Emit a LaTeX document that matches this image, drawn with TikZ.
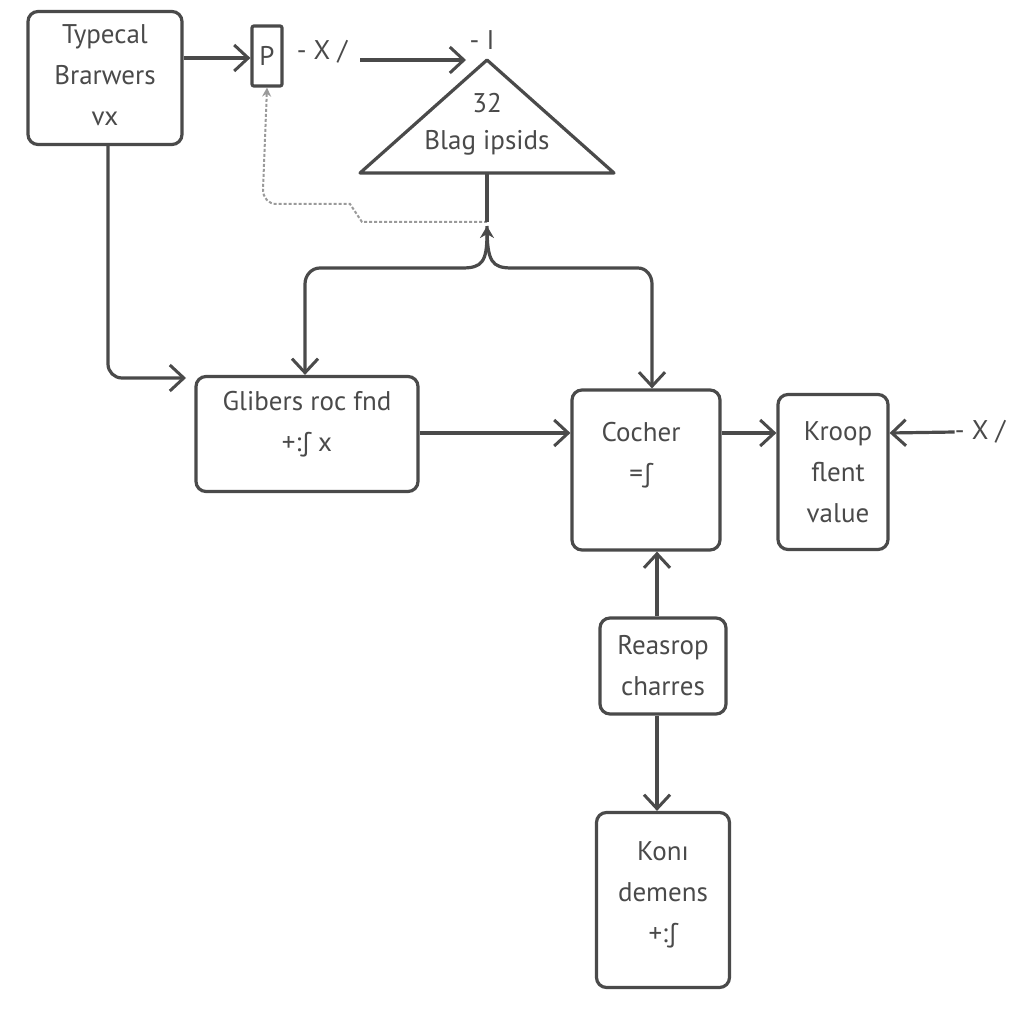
\documentclass[tikz,border=0pt]{standalone}
\usepackage{fontspec}
\setmainfont{PT Sans}
\usetikzlibrary{arrows.meta}
\definecolor{ink}{HTML}{4A4A4A}
\definecolor{faint}{HTML}{9A9A9A}
\begin{document}
\begin{tikzpicture}[x=1pt,y=-1pt,
  box/.style={draw=ink,line width=3.2pt,rounded corners=10pt,fill=white,inner sep=0pt},
  lbl/.style={text=ink,font=\fontsize{27}{41}\selectfont,align=center,inner sep=0pt},
  barb/.tip={Straight Barb[length=14pt,width=26pt,line width=3pt]},
  conn/.style={draw=ink,line width=3.2pt,-barb},
  faintline/.style={draw=faint,line width=2pt,densely dashed}]
\useasboundingbox[fill=white] (0,0) rectangle (1024,1024);
% boxes
\node[box,minimum width=154pt,minimum height=133pt] (tb) at (105,78) {};
\node[lbl] (tbt) at (105,75) {Typecal\\Brarwers\\vx};
\node[box,rounded corners=2pt,minimum width=30pt,minimum height=60pt] (pb) at (267,56) {};
\node[lbl] (pbt) at (267,56) {P};
\node[lbl] (x1) at (322,52) {- X /};
\node[lbl] (i1) at (482,40) {- I};
% triangle
\coordinate (ta) at (487,60);
\coordinate (tl) at (360,173);
\coordinate (tr) at (614,173);
\coordinate (tc) at (487,173);
\draw[draw=ink,line width=3.2pt,line join=round] (ta) -- (tl) -- (tr) -- cycle;
\node[lbl] (t32) at (487,103) {32};
\node[lbl] (tbl) at (487,143) {Blag ipsids};
\node[box,minimum width=222pt,minimum height=115pt] (gl) at (307,434) {};
\node[lbl] (glt) at (307,424) {Glibers roc fnd\\+:∫ x};
\node[box,minimum width=148pt,minimum height=160pt] (co) at (646,470) {};
\node[lbl] (cot) at (641,455) {Cocher\\=∫};
\node[box,minimum width=110pt,minimum height=155pt] (kr) at (833,472) {};
\node[lbl] (krt) at (838,472) {Kroop\\flent\\value};
\node[lbl] (x2) at (980,432) {- X /};
\node[box,minimum width=126pt,minimum height=96pt] (re) at (663,666) {};
\node[lbl] (ret) at (663,666) {Reasrop\\charres};
\node[box,minimum width=133pt,minimum height=175pt] (ko) at (663,900) {};
\node[lbl] (kot) at (663,895) {Konı\\demens\\+:∫};
% junction
\coordinate (j) at (487,226);
\coordinate (jd) at (487,222);
\coordinate (xa) at (360,60);
\coordinate (xb) at (466,60);
% connectors
\draw[conn] (tb.east |- 0,58) -- (pb.west |- 0,58);
\draw[conn] (xa) -- (xb);
\draw[faintline,-{Stealth[length=9pt,width=9pt]}] (jd) -- (362,222) -- (350,204) -- (276,204) to[out=180,in=270] (263,190) -- (pb.south);
\draw[draw=ink,line width=3.2pt] (tc) -- (jd);
\draw[draw=ink,line width=3.2pt,{Stealth[length=12pt,width=14pt]}-barb]
  (j) .. controls (487,262) and (482,268) .. (462,268) -- (320,268) to[out=180,in=90] (305,284) -- (gl.north -| 305,0);
\draw[conn] (j) .. controls (487,262) and (492,268) .. (512,268) -- (638,268) to[out=0,in=90] (652,284) -- (co.north -| 652,0);
\draw[conn,rounded corners=14pt] (tb.south -| 108,0) -- (108,378) -- (186,378);
\draw[conn] (gl.east |- 0,433) -- (co.west |- 0,433);
\draw[conn] (co.east |- 0,433) -- (kr.west |- 0,433);
\draw[conn] (x2.west) -- (kr.east |- 0,433);
\draw[conn] (re.north -| 657,0) -- (co.south -| 657,0);
\draw[conn] (re.south -| 657,0) -- (ko.north -| 657,0);
\end{tikzpicture}
\end{document}
